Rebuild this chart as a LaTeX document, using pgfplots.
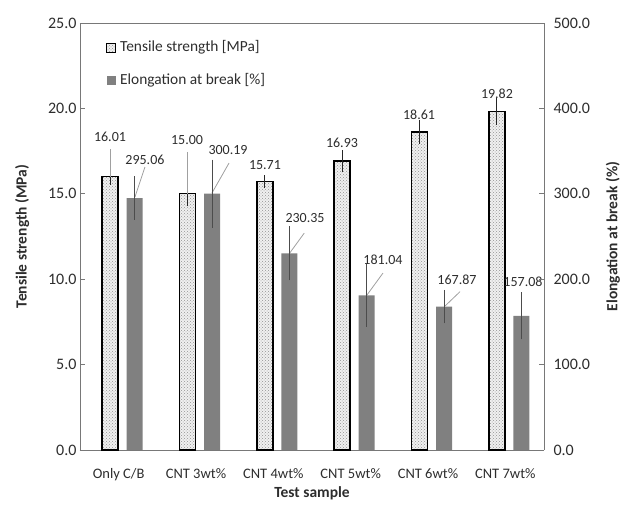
\documentclass[border=0pt]{standalone}
\usepackage{pgfplots}
\pgfplotsset{compat=1.18}
\usepackage{fontspec}
\setmainfont{Carlito}
\usetikzlibrary{patterns}
\definecolor{elong}{RGB}{128,128,128}
\definecolor{txt}{RGB}{45,45,45}
\definecolor{frame}{RGB}{120,120,120}
\definecolor{lead}{RGB}{160,160,160}
\begin{document}
\begin{tikzpicture}[x=1pt,y=1pt]
\useasboundingbox (-80pt,-56pt) rectangle (544pt,450pt);
\pgfplotsset{
  every axis/.append style={
    scale only axis, width=464pt, height=427pt, at={(0,0)}, anchor=south west,
    xmin=-0.5, xmax=5.5, axis line style={frame, line width=0.8pt},
    tick style={frame, line width=0.8pt}, major tick length=5pt,
    tick label style={font=\fontsize{16}{18}\selectfont, text=txt},
    label style={font=\fontsize{15.5}{18}\selectfont\bfseries, text=txt},
    /pgf/number format/assume math mode=true,
    /pgf/number format/.cd, fixed, fixed zerofill, precision=1,
  },
}
\begin{axis}[
  ybar, bar width=16pt, bar shift=-8.5pt,
  ymin=0, ymax=25, ytick={0,5,10,15,20,25},
  axis y line*=left, axis x line*=bottom,
  xtick={0,1,2,3,4,5}, major x tick style={draw=none},
  xticklabels={Only C/B, CNT 3wt\%, CNT 4wt\%, CNT 5wt\%, CNT 6wt\%, CNT 7wt\%},
  xticklabel style={yshift=-10pt, font=\fontsize{14.5}{16}\selectfont},
  xlabel={Test sample}, ylabel={Tensile strength (MPa)},
  ylabel style={yshift=12pt},
  xlabel style={yshift=1pt},
  clip=false,
]
\addplot[ybar, bar width=16pt, bar shift=-8.5pt, draw=none, fill=gray!12, forget plot]
  coordinates {(0,16.01) (1,15.00) (2,15.71) (3,16.93) (4,18.61) (5,19.82)};
\addplot[ybar, bar width=16pt, bar shift=-8.5pt, draw=black, line width=1.4pt,
  pattern=crosshatch dots, pattern color=gray!85,
  error bars/.cd, y dir=both, y explicit,
  error bar style={black!85, line width=0.8pt}, error mark options={mark size=4pt, black!85, line width=0.8pt}]
  coordinates {(0,16.01) +- (0,0.25) (1,15.00) +- (0,0.5) (2,15.71) +- (0,0.15)
               (3,16.93) +- (0,0.4) (4,18.61) +- (0,0.45) (5,19.82) +- (0,0.55)};
% labels
\begin{scope}[every node/.style={font=\fontsize{14}{16}\selectfont, text=txt, inner sep=1pt}]
\node at (axis cs:-0.112,18.33) {16.01};
\node at (axis cs:0.884,18.15) {15.00};
\node at (axis cs:1.892,16.69) {15.71};
\node at (axis cs:2.888,17.97) {16.93};
\node at (axis cs:3.884,19.61) {18.61};
\node at (axis cs:4.892,20.84) {19.82};
\node at (axis cs:0.34,16.98) {295.06};
\node at (axis cs:1.414,17.56) {300.19};
\node at (axis cs:2.41,13.58) {230.35};
\node at (axis cs:3.418,11.12) {181.04};
\node at (axis cs:4.375,9.95) {167.87};
\node at (axis cs:5.228,9.84) {157.08};
\end{scope}
\draw[lead, line width=0.8pt] (axis cs:-0.112,17.6) -- (axis cs:-0.112,16.01);
\draw[lead, line width=0.8pt] (axis cs:0.884,17.45) -- (axis cs:0.884,15.0);
\draw[lead, line width=0.8pt] (axis cs:0.34,16.57) -- (axis cs:0.211,14.81);
\draw[lead, line width=0.8pt] (axis cs:1.427,16.80) -- (axis cs:1.207,15.05);
\draw[lead, line width=0.8pt] (axis cs:2.40,12.70) -- (axis cs:2.21,11.52);
\draw[lead, line width=0.8pt] (axis cs:3.418,10.36) -- (axis cs:3.21,9.07);
\draw[lead, line width=0.8pt] (axis cs:4.414,9.27) -- (axis cs:4.22,8.43);
% legend
\fill[gray!12] (axis cs:-0.151,23.30) rectangle ++(9pt,9pt);
\draw[black, line width=1pt, pattern=crosshatch dots, pattern color=gray!85]
  (axis cs:-0.151,23.30) rectangle ++(9pt,9pt);
\node[anchor=west, font=\fontsize{15.4}{18}\selectfont, text=txt, inner sep=0pt] at (axis cs:0.017,23.6) {Tensile strength [MPa]};
\fill[elong] (axis cs:-0.151,21.37) rectangle ++(9pt,9pt);
\node[anchor=west, font=\fontsize{15.4}{18}\selectfont, text=txt, inner sep=0pt] at (axis cs:0.017,21.62) {Elongation at break [\%]};
\draw[frame, line width=0.8pt] (rel axis cs:0,1) -- (rel axis cs:1,1);
\end{axis}
\begin{axis}[
  ybar, bar width=16pt, bar shift=16pt,
  ymin=0, ymax=500, ytick={0,100,200,300,400,500},
  axis y line*=right, axis x line=none,
  yticklabel style={xshift=6pt},
  ylabel={Elongation at break (\%)},
  ylabel style={yshift=-9pt},
]
\addplot[ybar, bar width=16pt, bar shift=16pt, draw=none, fill=elong,
  error bars/.cd, y dir=both, y explicit,
  error bar style={black!70, line width=0.8pt}, error mark options={mark size=4pt, black!70, line width=0.8pt}]
  coordinates {(0,295.06) +- (0,21) (1,300.19) +- (0,35) (2,230.35) +- (0,27)
               (3,181.04) +- (0,32) (4,167.87) +- (0,15) (5,157.08) +- (0,23)};
\end{axis}
\end{tikzpicture}
\end{document}
